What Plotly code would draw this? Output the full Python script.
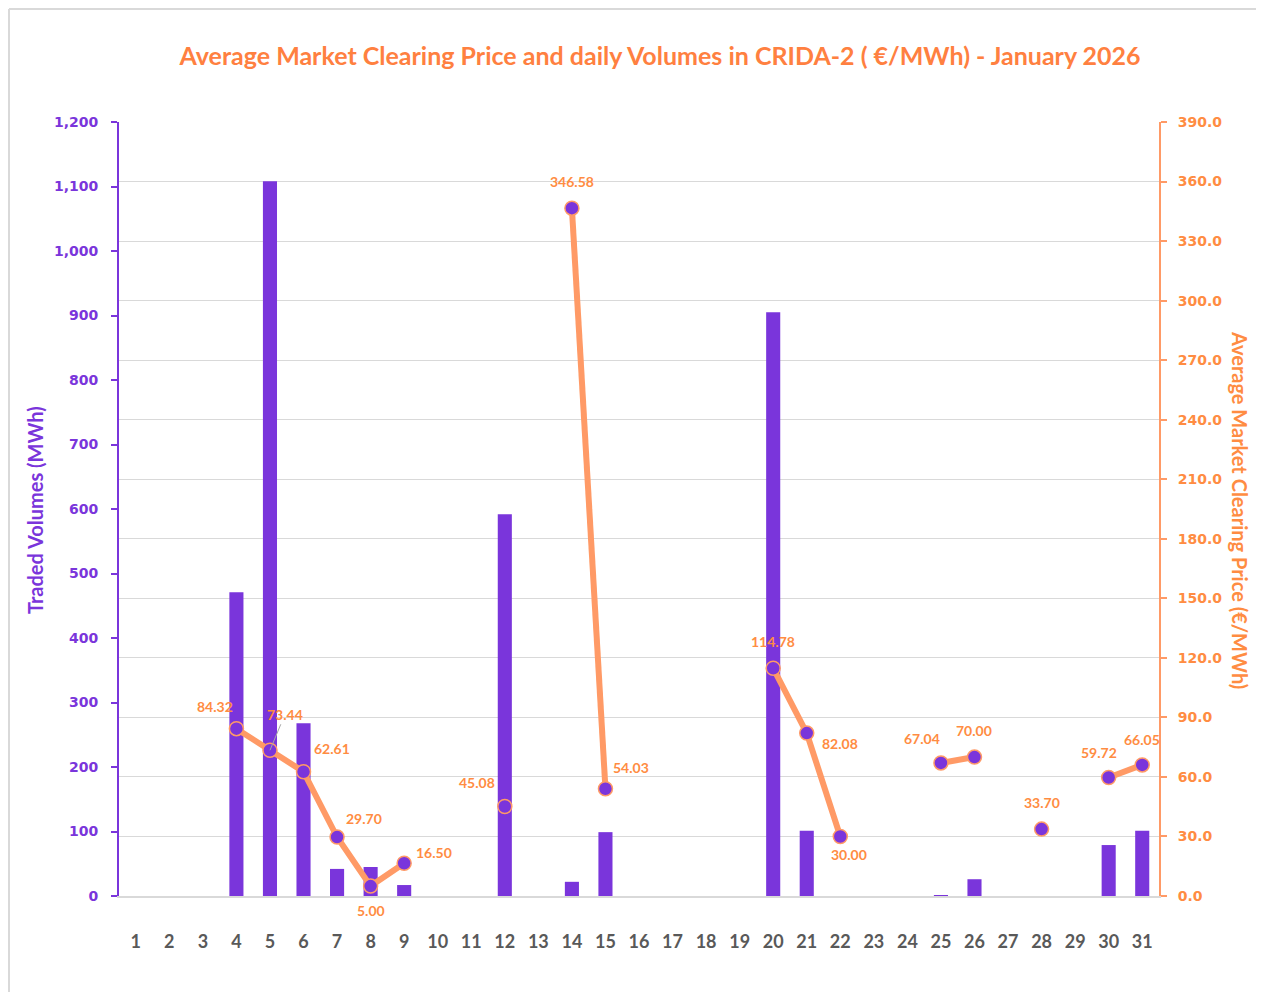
import plotly.graph_objects as go

# ── Data ──────────────────────────────────────────────────────────────────────
days = list(range(1, 32))

volumes = [None, None, None, 471, 1108, 268, 42, 45, 17, None,
           None, 592, None, 22, 99, None, None, None, None, 905,
           101, None, None, None, 1, 26, None, None, None, 79,
           101]

prices = [None, None, None, 84.32, 73.44, 62.61, 29.70, 5.00, 16.50, None,
          None, 45.08, None, 346.58, 54.03, None, None, None, None, 114.78,
          82.08, 30.00, None, None, 67.04, 70.00, None, 33.70, None, 59.72,
          66.05]

# label offsets (px) of each price label from its point, and leader flag
label_offsets = {
    4: (-21, -22), 5: (15, -36), 6: (28, -23), 7: (27, -19), 8: (0, 24),
    9: (30, -11), 12: (-28, -24), 14: (0, -27), 15: (26, -21), 20: (0, -27),
    21: (33, 10), 22: (9, 18), 25: (-19, -24), 26: (0, -27), 28: (0, -27),
    30: (-10, -25), 31: (0, -25),
}
leader_days = {5}

# ── Style ─────────────────────────────────────────────────────────────────────
PURPLE = "#7A35DB"
ORANGE = "#FF8C42"
LINE_ORANGE = "#FF9A66"
GRID = "#D9D9D9"
GRAY_TXT = "#595959"

# page body has an 8px margin, so figure coords = screen coords - 8
OFF = 8
W, H = 1264 - OFF, 992 - OFF
PL, PT = 119 - OFF, 122 - OFF
PR = W - (1159 - OFF)
PB = H - (896 - OFF)
PW, PH = W - PL - PR, H - PT - PB
BASE = 896 - OFF  # plot bottom in figure px


def px_x(sx):
    return (sx - OFF - PL) / PW


def px_y(sy):
    return (BASE - (sy - OFF)) / PH


fig = go.Figure()

fig.add_trace(go.Bar(
    x=days, y=volumes,
    marker=dict(color=PURPLE, line_width=0),
    width=0.42,
    name="Traded Volumes",
    yaxis="y",
))

fig.add_trace(go.Scatter(
    x=days, y=prices,
    mode="lines+markers",
    line=dict(color=LINE_ORANGE, width=6),
    marker=dict(size=14, color=PURPLE, line=dict(color=LINE_ORANGE, width=1.5)),
    connectgaps=False,
    name="Average Price",
    yaxis="y2",
))

annotations = []
for d, p in zip(days, prices):
    if p is None:
        continue
    dx, dy = label_offsets.get(d, (0, -25))
    annotations.append(dict(
        x=d, y=p, xref="x", yref="y2",
        text=f"{p:.2f}",
        showarrow=True, ax=dx, ay=dy,
        arrowhead=0, arrowwidth=1,
        arrowcolor="#A6A6A6" if d in leader_days else "rgba(0,0,0,0)",
        font=dict(family="Lato, sans-serif", size=14, color=ORANGE, weight="bold"),
    ))

# axis titles
annotations.append(dict(
    x=px_x(35), y=px_y(510), xref="paper", yref="paper",
    xanchor="center", yanchor="middle",
    text="Traded Volumes (MWh)", textangle=-90, showarrow=False,
    font=dict(family="Lato, sans-serif", size=20, color=PURPLE, weight="bold"),
))
annotations.append(dict(
    x=px_x(1240), y=px_y(510), xref="paper", yref="paper",
    xanchor="center", yanchor="middle",
    text="Average Market Clearing Price (€/MWh)", textangle=90, showarrow=False,
    font=dict(family="Lato, sans-serif", size=20, color=ORANGE, weight="bold"),
))

# outer frame (top and left edges)
shapes = [
    dict(type="line", xref="paper", yref="paper",
         x0=px_x(OFF + 1), x1=px_x(1280), y0=px_y(OFF + 1), y1=px_y(OFF + 1),
         line=dict(color=GRID, width=2)),
    dict(type="line", xref="paper", yref="paper",
         x0=px_x(OFF + 1), x1=px_x(OFF + 1), y0=px_y(OFF + 1), y1=px_y(1000),
         line=dict(color=GRID, width=2)),
]

fig.update_layout(
    width=W, height=H,
    margin=dict(l=PL, r=PR, t=PT, b=PB),
    plot_bgcolor="white",
    paper_bgcolor="white",
    showlegend=False,
    title=dict(
        text="Average Market Clearing Price and daily Volumes in CRIDA-2 ( €/MWh) - January 2026",
        x=(660 - OFF) / W, xanchor="center", y=1 - (56 - OFF) / H, yanchor="middle",
        font=dict(family="Lato, sans-serif", size=25, color="#FF8040", weight="bold"),
    ),
    xaxis=dict(
        range=[0.5, 31.5],
        tickmode="array", tickvals=days, ticktext=[str(d) for d in days],
        showgrid=False, zeroline=False,
        showline=True, linecolor=GRID, linewidth=2,
        ticks="", ticklabelstandoff=28,
        tickfont=dict(family="Lato, sans-serif", size=18, color=GRAY_TXT, weight="bold"),
    ),
    yaxis=dict(
        range=[0, 1200], tickmode="linear", tick0=0, dtick=100,
        tickformat=",d",
        showgrid=False, zeroline=False,
        showline=True, linecolor=PURPLE, linewidth=2,
        ticks="outside", ticklen=6, tickcolor=PURPLE, tickwidth=2,
        ticklabelstandoff=10,
        tickfont=dict(family="DejaVu Sans, sans-serif", size=14, color=PURPLE, weight="bold"),
    ),
    yaxis2=dict(
        range=[0, 390], tickmode="linear", tick0=0, dtick=30,
        tickformat=".1f",
        overlaying="y", side="right",
        showgrid=True, gridcolor=GRID, gridwidth=1, zeroline=False,
        showline=True, linecolor=LINE_ORANGE, linewidth=2,
        ticks="outside", ticklen=6, tickcolor=LINE_ORANGE, tickwidth=2,
        ticklabelstandoff=8,
        tickfont=dict(family="DejaVu Sans, sans-serif", size=14, color=ORANGE, weight="bold"),
    ),
    annotations=annotations,
    shapes=shapes,
)

fig.write_html("out.html")
